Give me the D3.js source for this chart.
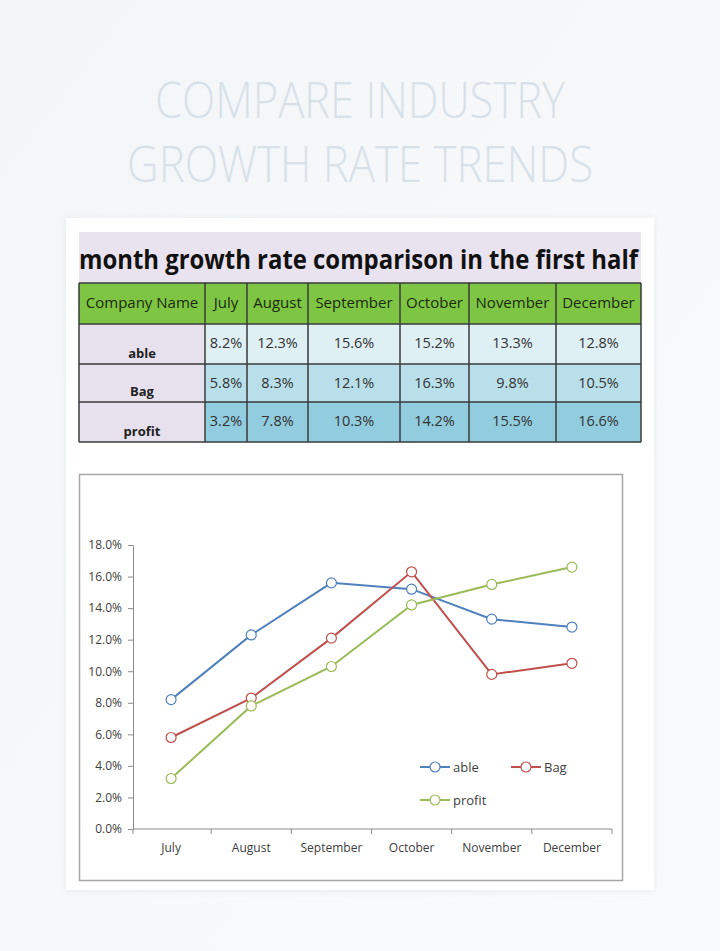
<!DOCTYPE html>
<html>
<head>
<meta charset="utf-8"/>
<title>Compare industry growth rate trends</title>
<script src="https://d3js.org/d3.v7.min.js"></script>
<style>
  body { margin: 0; background: #f5f7f9; }
  svg { display: block; }
  .axis text { font-family: "Open Sans", sans-serif; font-size: 12px; fill: #404040; }
  .axis path, .axis line { stroke: #8c8c8c; }
</style>
</head>
<body>
<svg id="page" width="720" height="951"></svg>
<script>
// data
var months = ["July", "August", "September", "October", "November", "December"];
var companies = ["able", "Bag", "profit"];
var ableValues = [8.2, 12.3, 15.6, 15.2, 13.3, 12.8];
var bagValues = [5.8, 8.3, 12.1, 16.3, 9.8, 10.5];
var profitValues = [3.2, 7.8, 10.3, 14.2, 15.5, 16.6];
var yTicks = [0, 2, 4, 6, 8, 10, 12, 14, 16, 18];
var headerLabel = "Company Name";
var tableTitle = "month growth rate comparison in the first half";
var pageTitle = ["COMPARE INDUSTRY", "GROWTH RATE TRENDS"];

var series = [
  { name: companies[0], values: ableValues, color: "#4f81bd" },
  { name: companies[1], values: bagValues, color: "#c0504d" },
  { name: companies[2], values: profitValues, color: "#9bbb59" }
];

var svg = d3.select("#page");

// background
var defs = svg.append("defs");
var bg = defs.append("linearGradient").attr("id", "bg").attr("x1", 0).attr("y1", 0).attr("x2", 1).attr("y2", 1);
bg.append("stop").attr("offset", "0%").attr("stop-color", "#f3f6f8");
bg.append("stop").attr("offset", "100%").attr("stop-color", "#f9fafc");
svg.append("rect").attr("width", 720).attr("height", 951).attr("fill", "url(#bg)");

var shadow = defs.append("filter").attr("id", "shadow").attr("x", "-5%").attr("y", "-5%").attr("width", "110%").attr("height", "110%");
shadow.append("feDropShadow").attr("dx", 0).attr("dy", 1).attr("stdDeviation", 3).attr("flood-color", "#000").attr("flood-opacity", 0.06);

// page title
svg.selectAll("text.ptitle")
  .data(pageTitle)
  .enter().append("text")
  .attr("class", "ptitle")
  .attr("x", 360)
  .attr("y", (d, i) => 118 + i * 64)
  .attr("text-anchor", "middle")
  .attr("textLength", (d, i) => i == 0 ? 410 : 466)
  .attr("lengthAdjust", "spacingAndGlyphs")
  .style("font-family", "'Open Sans', sans-serif")
  .style("font-weight", 300)
  .style("font-size", "50px")
  .style("fill", "#d9e1e8")
  .text(d => d);

// card
svg.append("rect")
  .attr("x", 66).attr("y", 218).attr("width", 588).attr("height", 672)
  .attr("fill", "#ffffff").attr("filter", "url(#shadow)");

// ---- table ----
var colEdges = [79, 205, 247, 308, 400, 469, 556, 641];
var rowEdges = [283, 324, 364, 402, 442];
var rowFill = ["#dff0f5", "#b9e0ea", "#92cddf"];

svg.append("rect")
  .attr("x", 79).attr("y", 232).attr("width", 562).attr("height", 51)
  .attr("fill", "#e9e3ef");
svg.append("text")
  .attr("x", 79).attr("y", 269)
  .attr("textLength", 559)
  .attr("lengthAdjust", "spacingAndGlyphs")
  .style("font-family", "'Open Sans', sans-serif")
  .style("font-weight", 700)
  .style("font-size", "27px")
  .style("fill", "#111")
  .text(tableTitle);

var table = svg.append("g");
var header = [headerLabel].concat(months);

// header row
table.selectAll("rect.head")
  .data(header)
  .enter().append("rect")
  .attr("class", "head")
  .attr("x", (d, i) => colEdges[i])
  .attr("y", rowEdges[0])
  .attr("width", (d, i) => colEdges[i + 1] - colEdges[i])
  .attr("height", rowEdges[1] - rowEdges[0])
  .attr("fill", "#7ec544");
table.selectAll("text.head")
  .data(header)
  .enter().append("text")
  .attr("class", "head")
  .attr("x", (d, i) => (colEdges[i] + colEdges[i + 1]) / 2)
  .attr("y", rowEdges[0] + 25)
  .attr("text-anchor", "middle")
  .style("font-family", "'Open Sans', sans-serif")
  .style("font-size", "15px")
  .style("fill", "#1b2a10")
  .text(d => d);

// body rows
series.forEach(function (s, r) {
  var y0 = rowEdges[r + 1], y1 = rowEdges[r + 2];
  table.append("rect")
    .attr("x", colEdges[0]).attr("y", y0)
    .attr("width", colEdges[1] - colEdges[0]).attr("height", y1 - y0)
    .attr("fill", "#e7e1ed");
  table.append("text")
    .attr("x", (colEdges[0] + colEdges[1]) / 2)
    .attr("y", y1 - 6)
    .attr("text-anchor", "middle")
    .style("font-family", "'Open Sans', sans-serif")
    .style("font-weight", 700)
    .style("font-size", "13px")
    .style("fill", "#222")
    .text(s.name);
  table.selectAll("rect.r" + r)
    .data(s.values)
    .enter().append("rect")
    .attr("x", (d, i) => colEdges[i + 1])
    .attr("y", y0)
    .attr("width", (d, i) => colEdges[i + 2] - colEdges[i + 1])
    .attr("height", y1 - y0)
    .attr("fill", rowFill[r]);
  table.selectAll("text.r" + r)
    .data(s.values)
    .enter().append("text")
    .attr("x", (d, i) => (colEdges[i + 1] + colEdges[i + 2]) / 2)
    .attr("y", y0 + 24)
    .attr("text-anchor", "middle")
    .style("font-family", "'Open Sans', sans-serif")
    .style("font-size", "14.5px")
    .style("fill", "#333")
    .text(d => d.toFixed(1) + "%");
});

// grid lines
table.selectAll("line.v")
  .data(colEdges)
  .enter().append("line")
  .attr("x1", d => d).attr("x2", d => d)
  .attr("y1", rowEdges[0]).attr("y2", rowEdges[rowEdges.length - 1])
  .attr("stroke", "#3a3a3a").attr("stroke-width", 1.5);
table.selectAll("line.h")
  .data(rowEdges)
  .enter().append("line")
  .attr("x1", colEdges[0]).attr("x2", colEdges[colEdges.length - 1])
  .attr("y1", d => d).attr("y2", d => d)
  .attr("stroke", "#3a3a3a").attr("stroke-width", 1.5);

// ---- chart ----
svg.append("rect")
  .attr("x", 79.5).attr("y", 474.5).attr("width", 543).attr("height", 406)
  .attr("fill", "#fff").attr("stroke", "#a6a6a6").attr("stroke-width", 1.5);

var plot = { left: 133, right: 612, top: 545, bottom: 829 };

var x = d3.scaleBand().domain(months).range([plot.left - 2, plot.right]);
var y = d3.scaleLinear().domain([0, 18]).range([plot.bottom, plot.top]);

svg.append("g")
  .attr("class", "axis")
  .attr("transform", "translate(" + plot.left + ",0)")
  .call(d3.axisLeft(y).tickValues(yTicks).tickSize(5).tickSizeOuter(0).tickPadding(6)
    .tickFormat(d => d.toFixed(1) + "%"));

var xAxis = svg.append("g")
  .attr("class", "axis")
  .attr("transform", "translate(0," + plot.bottom + ")")
  .call(d3.axisBottom(x).tickSize(0).tickSizeOuter(0).tickPadding(14));
xAxis.select(".domain").attr("d", "M" + plot.left + ",0H" + plot.right);
xAxis.selectAll(".sep")
  .data(months)
  .enter().append("line")
  .attr("class", "sep")
  .attr("x1", (d, i) => i == 0 ? plot.left : x(d))
  .attr("x2", (d, i) => i == 0 ? plot.left : x(d))
  .attr("y1", 0).attr("y2", 5)
  .attr("stroke", "#8c8c8c");
xAxis.append("line")
  .attr("x1", plot.right).attr("x2", plot.right)
  .attr("y1", 0).attr("y2", 5).attr("stroke", "#8c8c8c");

var line = d3.line()
  .x((d, i) => x(months[i]) + x.bandwidth() / 2)
  .y(d => y(d));

series.forEach(function (s) {
  svg.append("path")
    .attr("d", line(s.values))
    .attr("fill", "none")
    .attr("stroke", s.color)
    .attr("stroke-width", 2);
  svg.selectAll("circle." + s.name)
    .data(s.values)
    .enter().append("circle")
    .attr("class", s.name)
    .attr("cx", (d, i) => x(months[i]) + x.bandwidth() / 2)
    .attr("cy", d => y(d))
    .attr("r", 5)
    .attr("fill", "#fff")
    .attr("stroke", s.color)
    .attr("stroke-width", 1.2);
});

// legend
var legendPos = [[420, 767], [511, 767], [420, 800]];
series.forEach(function (s, i) {
  var g = svg.append("g").attr("transform", "translate(" + legendPos[i][0] + "," + legendPos[i][1] + ")");
  g.append("line").attr("x1", 0).attr("x2", 30).attr("stroke", s.color).attr("stroke-width", 2);
  g.append("circle").attr("cx", 15).attr("r", 5).attr("fill", "#fff").attr("stroke", s.color).attr("stroke-width", 1.2);
  g.append("text").attr("x", 33).attr("y", 5)
    .style("font-family", "'Open Sans', sans-serif")
    .style("font-size", "13px")
    .style("fill", "#404040")
    .text(s.name);
});
</script>
</body>
</html>
